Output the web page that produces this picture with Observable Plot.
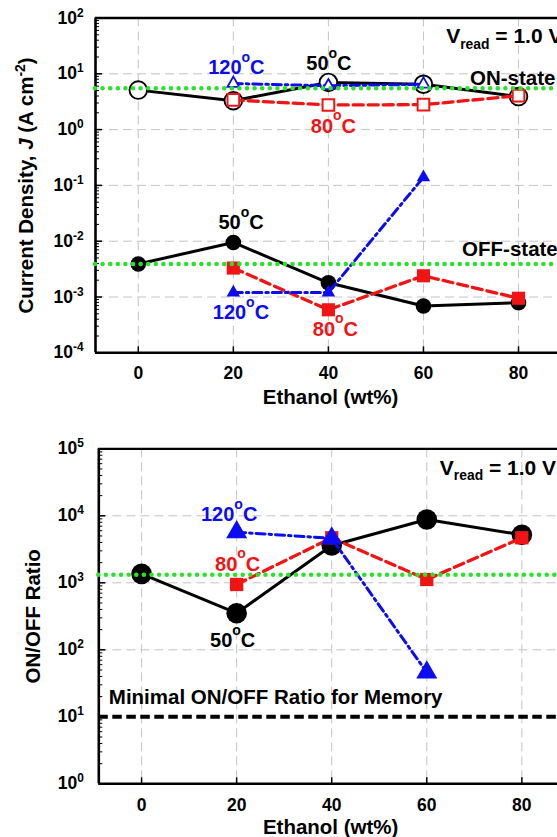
<!DOCTYPE html>
<html><head><meta charset="utf-8">
<script src="https://cdn.jsdelivr.net/npm/d3@7"></script>
<script src="https://cdn.jsdelivr.net/npm/@observablehq/plot@0.6"></script>
<style>
html,body{margin:0;padding:0;background:#fff;overflow:hidden;width:557px;height:837px}
#chart svg{display:block}
</style></head><body><div id="chart"></div>
<script>
// ---- data ----
const ethanol = [0, 20, 40, 60, 80];
const on50  = [5.1, 3.3, 7.0, 6.5, 3.9];
const on80  = [null, 3.4, 2.76, 2.8, 4.05];
const on120 = [null, 6.7, 6.1, 6.5, null];
const off50  = [3.9e-3, 9.5e-3, 1.8e-3, 6.9e-4, 7.9e-4];
const off80  = [null, 3.3e-3, 5.9e-4, 2.4e-3, 9.5e-4];
const off120 = [null, 1.2e-3, 1.2e-3, 0.14, null];
const onMean = 5.5;
const offMean = 3.9e-3;
const ratio50  = [1360, 352, 3600, 8800, 5200];
const ratio80  = [null, 944, 4700, 1120, 4700];
const ratio120 = [null, 5700, 4600, 46, null];
const ratioMean = 1320;
const minRatio = 10;
const xTicks = [0, 20, 40, 60, 80];
const yTicksTop = [1e-4, 1e-3, 1e-2, 1e-1, 1, 10, 100];
const yTicksBottom = [1, 10, 100, 1e3, 1e4, 1e5];
const seriesNames = ["50^oC", "80^oC", "120^oC"];
const xTitle = "Ethanol (wt%)";
const yTitleTop = "Current Density, *J* (A cm^{-2})";
const yTitleBottom = "ON/OFF Ratio";
const vreadText = "V_{read} = 1.0 V";
const onText = "ON-state";
const offText = "OFF-state";
const minText = "Minimal ON/OFF Ratio for Memory";

// ---- helpers ----
const BLACK = "#000", RED = "#f01414", BLUE = "#0c0cf0", GREEN = "#2ee02e", GRID = "#c4c4c4";
const FONT = "'Liberation Sans', Arial, Helvetica, sans-serif";
const rows = vals => ethanol.map((x, i) => ({x, y: vals[i]})).filter(d => d.y != null);
const pt = (vals, i) => [{x: ethanol[i], y: vals[i]}];
function minors(e0, e1) {
  const out = [];
  for (let e = e0; e < e1; e++) for (let k = 2; k <= 9; k++) out.push(k * Math.pow(10, e));
  return out;
}
const W = 557;

function frameMarks({ml, mt, mb, h, xDom, yDom, yTicks, yMinor, tickPad, xPad}) {
  const fw = W - ml, fh = h - mt - mb;
  return [
    Plot.ruleX(xTicks, {stroke: GRID, strokeWidth: 1, strokeDasharray: "9,5"}),
    Plot.ruleY(yTicks.slice(1, -1), {stroke: GRID, strokeWidth: 1, strokeDasharray: "9,5"}),
    Plot.tickX(xTicks, {insetTop: fh - 6, stroke: BLACK, strokeWidth: 1.5}),
    Plot.tickY(yTicks, {insetRight: fw - 7, stroke: BLACK, strokeWidth: 1.5}),
    Plot.tickY(yMinor, {insetRight: fw - 4, stroke: BLACK, strokeWidth: 1}),
    Plot.ruleX([xDom[0]], {stroke: BLACK, strokeWidth: 2.6}),
    Plot.ruleY([yDom[0]], {stroke: BLACK, strokeWidth: 2.6}),
    Plot.ruleY([yDom[1]], {stroke: BLACK, strokeWidth: 2.3}),
    Plot.axisY(yTicks, {tickSize: 0, tickPadding: tickPad, fontSize: 17.5, fontWeight: "bold",
      tickFormat: d => "10^{" + Math.round(Math.log10(d)) + "}", label: null}),
    Plot.axisX(xTicks, {tickSize: 0, tickPadding: xPad, fontSize: 17.5, fontWeight: "bold",
      tickFormat: d => String(d), label: null})
  ];
}

function seriesMarks(vals, color, symbol, r, open, strokeWidth, dash, mStroke) {
  return [
    Plot.line(rows(vals), {x: "x", y: "y", stroke: color, strokeWidth, strokeDasharray: dash}),
    Plot.dot(rows(vals), {x: "x", y: "y", symbol, r,
      fill: open ? "white" : color, stroke: open ? color : "none", strokeWidth: mStroke})
  ];
}

function label(p, text, color, dx, dy) {
  return Plot.text(p, {x: "x", y: "y", text: () => text, fill: color, dx, dy,
    fontSize: 20, fontWeight: "bold", textAnchor: "middle", lineAnchor: "middle"});
}

const DASH = "10,5", DASHDOT = "9,4,2.5,4";

// ---- top panel ----
const topH = 412, topMT = 17.5, topMB = 59.7, topML = 95;
const topXDom = [-9, 88.2], topYDom = [1e-4, 1e2];
const topChart = Plot.plot({
  width: W, height: topH, marginTop: topMT, marginBottom: topMB, marginLeft: topML, marginRight: 0,
  x: {domain: topXDom, axis: null},
  y: {type: "log", domain: topYDom, axis: null},
  style: {fontFamily: FONT, color: "black", background: "white"},
  marks: [
    ...frameMarks({ml: topML, mt: topMT, mb: topMB, h: topH, xDom: topXDom, yDom: topYDom,
      yTicks: yTicksTop, yMinor: minors(-4, 2), tickPad: 12, xPad: 14}),
    ...seriesMarks(on50, BLACK, "circle", 8.8, true, 3, null, 1.9),
    ...seriesMarks(off50, BLACK, "circle", 7.8, false, 3, null, 0),
    ...seriesMarks(on80, RED, "square", 6.6, true, 3.3, DASH, 2),
    ...seriesMarks(off80, RED, "square", 7.4, false, 3.3, DASH, 0),
    ...seriesMarks(on120, BLUE, "triangle", 4.4, true, 3, DASHDOT, 1.8),
    ...seriesMarks(off120, BLUE, "triangle", 5, false, 3, DASHDOT, 0),
    Plot.ruleY([onMean], {stroke: GREEN, strokeWidth: 4.6, strokeDasharray: "0,7.6", strokeLinecap: "round"}),
    Plot.ruleY([offMean], {stroke: GREEN, strokeWidth: 4.6, strokeDasharray: "0,7.6", strokeLinecap: "round"}),
    label(pt(on120, 1), seriesNames[2], BLUE, 3, -16),
    label(pt(on50, 2), seriesNames[0], BLACK, 0.5, -18.4),
    label(pt(on80, 2), seriesNames[1], RED, 5, 21.5),
    label(pt(off50, 1), seriesNames[0], BLACK, 7.7, -19.4),
    label(pt(off120, 1), seriesNames[2], BLUE, 7.6, 20),
    label(pt(off80, 2), seriesNames[1], RED, 7, 19.7),
    Plot.text([onText], {y: () => onMean, frameAnchor: "left", dx: 374.5, dy: -10.2, text: d => d,
      textAnchor: "start", lineAnchor: "middle", fontSize: 20.5, fontWeight: "bold", fill: BLACK}),
    Plot.text([offText], {y: () => offMean, frameAnchor: "left", dx: 366.6, dy: -15, text: d => d,
      textAnchor: "start", lineAnchor: "middle", fontSize: 20.5, fontWeight: "bold", fill: BLACK}),
    Plot.text([vreadText], {frameAnchor: "top-left", dx: 350.7, dy: 18.5, text: d => d,
      textAnchor: "start", lineAnchor: "middle", fontSize: 21, fontWeight: "bold", fill: BLACK}),
    Plot.text([xTitle], {frameAnchor: "bottom", dx: 4, dy: 44.4, text: d => d,
      textAnchor: "middle", lineAnchor: "middle", fontSize: 20.5, fontWeight: "bold", fill: BLACK}),
    Plot.text([yTitleTop], {frameAnchor: "left", dx: -69, rotate: -90, text: d => d,
      textAnchor: "middle", lineAnchor: "middle", fontSize: 20.5, fontWeight: "bold", fill: BLACK})
  ]
});

// ---- bottom panel ----
const botH = 425, botMT = 36.3, botMB = 53.7, botML = 98.3;
const botXDom = [-9, 87.5], botYDom = [1, 1e5];
const bottomChart = Plot.plot({
  width: W, height: botH, marginTop: botMT, marginBottom: botMB, marginLeft: botML, marginRight: 0,
  x: {domain: botXDom, axis: null},
  y: {type: "log", domain: botYDom, axis: null},
  style: {fontFamily: FONT, color: "black", background: "white"},
  marks: [
    ...frameMarks({ml: botML, mt: botMT, mb: botMB, h: botH, xDom: botXDom, yDom: botYDom,
      yTicks: yTicksBottom, yMinor: minors(0, 5), tickPad: 15, xPad: 14.4}),
    Plot.ruleY([minRatio], {stroke: BLACK, strokeWidth: 4, strokeDasharray: "9.5,4.5"}),
    ...seriesMarks(ratio50, BLACK, "circle", 10.3, false, 3, null, 0),
    ...seriesMarks(ratio80, RED, "square", 7.5, false, 3.3, DASH, 0),
    ...seriesMarks(ratio120, BLUE, "triangle", 7.8, false, 3, DASHDOT, 0),
    Plot.ruleY([ratioMean], {stroke: GREEN, strokeWidth: 4.6, strokeDasharray: "0,7.6", strokeLinecap: "round"}),
    label(pt(ratio120, 1), seriesNames[2], BLUE, -7.5, -17.6),
    label(pt(ratio80, 1), seriesNames[1], RED, 1, -20),
    label(pt(ratio50, 1), seriesNames[0], BLACK, -4, 27.8),
    Plot.text([minText], {y: () => minRatio, frameAnchor: "left", dx: 10, dy: -19.2, text: d => d,
      textAnchor: "start", lineAnchor: "middle", fontSize: 20.5, fontWeight: "bold", fill: BLACK}),
    Plot.text([vreadText], {frameAnchor: "top-left", dx: 341, dy: 19, text: d => d,
      textAnchor: "start", lineAnchor: "middle", fontSize: 21, fontWeight: "bold", fill: BLACK}),
    Plot.text([xTitle], {frameAnchor: "bottom", dx: 2.5, dy: 44, text: d => d,
      textAnchor: "middle", lineAnchor: "middle", fontSize: 20.5, fontWeight: "bold", fill: BLACK}),
    Plot.text([yTitleBottom], {frameAnchor: "left", dx: -65.8, rotate: -90, text: d => d,
      textAnchor: "middle", lineAnchor: "middle", fontSize: 20.5, fontWeight: "bold", fill: BLACK})
  ]
});

const host = document.getElementById("chart");
host.appendChild(topChart);
host.appendChild(bottomChart);

// ---- rich text: ^{sup}, _{sub}, *italic* ----
function richify(root) {
  root.querySelectorAll("text").forEach(t => {
    if (t.querySelector("tspan")) return;
    const s = t.textContent;
    if (!/[\^_*]/.test(s)) return;
    const fs = parseFloat(getComputedStyle(t).fontSize) || 16;
    const parts = [];
    let i = 0, buf = "", italic = false;
    const flush = () => { if (buf) parts.push({text: buf, kind: "n", italic}); buf = ""; };
    while (i < s.length) {
      const c = s[i];
      if (c === "^" || c === "_") {
        flush();
        let g;
        if (s[i + 1] === "{") { const j = s.indexOf("}", i + 2); g = s.slice(i + 2, j); i = j + 1; }
        else { g = s[i + 1]; i += 2; }
        parts.push({text: g, kind: c === "^" ? "sup" : "sub", italic});
      } else if (c === "*") { flush(); italic = !italic; i++; }
      else { buf += c; i++; }
    }
    flush();
    t.textContent = "";
    let offset = 0;
    for (const p of parts) {
      const ts = document.createElementNS("http://www.w3.org/2000/svg", "tspan");
      let shift = 0, size = null;
      if (p.kind === "sup") {
        const deg = p.text === "o";
        size = fs * (deg ? 0.7 : 0.68);
        shift = -fs * (deg ? 0.62 : 0.40);
      } else if (p.kind === "sub") { size = fs * 0.66; shift = fs * 0.26; }
      const dy = shift - offset;
      if (dy) ts.setAttribute("dy", dy.toFixed(2));
      offset = shift;
      if (size) ts.setAttribute("font-size", size.toFixed(2));
      if (p.italic) ts.setAttribute("font-style", "italic");
      ts.textContent = p.text;
      t.appendChild(ts);
    }
  });
}
richify(topChart);
richify(bottomChart);
</script></body></html>
